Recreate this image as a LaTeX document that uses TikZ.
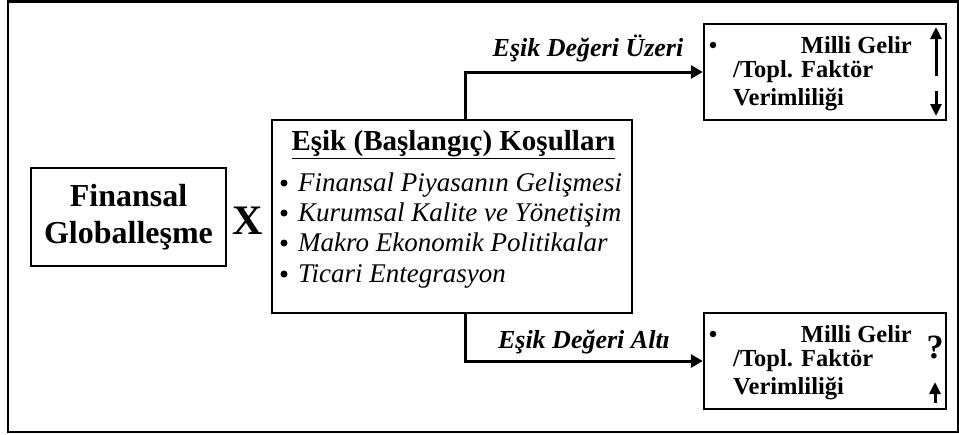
\documentclass[tikz,border=0pt]{standalone}
\usepackage{fontspec}
\setmainfont{Liberation Serif}
\usetikzlibrary{arrows.meta}
\begin{document}
\begin{tikzpicture}[x=1pt,y=-1pt,
  box/.style={draw,line width=2.4pt,minimum width=#1,inner sep=0pt},
  conn/.style={line width=3pt,-{Triangle[length=12pt,width=13pt]}},
  vArrow/.style={line width=3pt,-{Triangle[length=12pt,width=11pt]}},
  lbl/.style={font=\fontsize{26}{30}\selectfont\bfseries\itshape},
  rtxt/.style={font=\fontsize{24.5}{28}\selectfont\bfseries,inner sep=0pt},
  itm/.style={font=\fontsize{27}{30}\selectfont\itshape,inner sep=0pt,anchor=base west},
  dot/.style={circle,fill,inner sep=0pt,minimum size=#1}]
\useasboundingbox (0,0) rectangle (959,434);
\draw[line width=2.4pt] (8,1.5) rectangle (958,432);
% left box
\node[box=195pt,minimum height=98pt,align=center,
  font=\fontsize{32}{37}\selectfont\bfseries] (fg) at (128.5,217) {Finansal\\Globalleşme};
\node[font=\fontsize{42}{46}\selectfont\bfseries,inner sep=0pt] (x) at (248,221) {X};
% center box
\node[box=360pt,minimum height=193pt] (cb) at (452,216.5) {};
\node[font=\fontsize{29}{32}\selectfont\bfseries,inner sep=0pt] (ttl) at (453.5,145) {\underline{Eşik (Başlangıç) Koşulları}};
\node[dot=7pt] (b1) at (284,183) {};
\node[dot=7pt] (b2) at (284,213) {};
\node[dot=7pt] (b3) at (284,243) {};
\node[dot=7pt] (b4) at (284,274) {};
\node[itm] (i1) at (298,191) {Finansal Piyasanın Gelişmesi};
\node[itm] (i2) at (298,221) {Kurumsal Kalite ve Yönetişim};
\node[itm] (i3) at (298,251) {Makro Ekonomik Politikalar};
\node[itm] (i4) at (298,282) {Ticari Entegrasyon};
% right boxes
\node[box=242pt,minimum height=96pt] (ur) at (825,72) {};
\node[box=242pt,minimum height=96pt] (lr) at (825,361) {};
\foreach \b/\y in {u/0,l/289}{
  \node[dot=6.5pt] (\b d) at (713,45+\y) {};
  \node[rtxt,anchor=east] (\b m) at (912,45+\y) {Milli Gelir};
  \node[rtxt,anchor=west] (\b t) at (733,72+\y) {/Topl. Faktör};
  \node[rtxt,anchor=west] (\b v) at (733,100+\y) {Verimliliği};
}
\coordinate (ua1) at (936,76);
\coordinate (ua2) at (936,27);
\coordinate (da1) at (936,91);
\coordinate (da2) at (936,116);
\draw[vArrow] (ua1) -- (ua2);
\draw[vArrow] (da1) -- (da2);
\node[font=\fontsize{34}{38}\selectfont\bfseries,inner sep=0pt] (q) at (935,347) {?};
\coordinate (la1) at (935,403);
\coordinate (la2) at (935,382);
\draw[vArrow] (la1) -- (la2);
% connectors
\draw[conn] ([xshift=13pt]cb.north) |- (ur.west);
\draw[conn] ([xshift=13pt]cb.south) |- (lr.west);
\node[lbl,inner sep=0pt] (l1) at (588,48) {Eşik Değeri Üzeri};
\node[lbl,inner sep=0pt] (l2) at (584,342) {Eşik Değeri Altı};
\end{tikzpicture}
\end{document}
